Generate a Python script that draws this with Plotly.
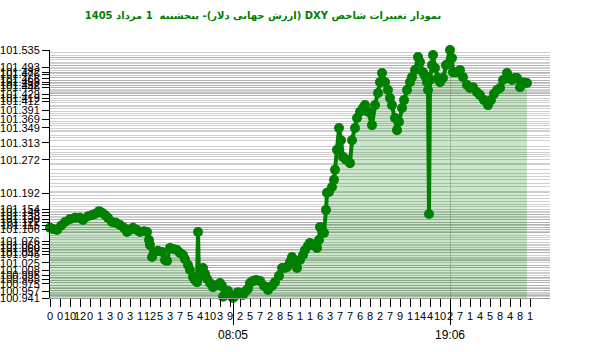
import plotly.graph_objects as go

# minutes elapsed since the first sample
minutes = [0, 9, 21, 33, 45, 60, 75, 90, 99, 114, 126, 135, 147, 156, 165, 174, 186, 198, 210, 222,
           231, 240, 249, 261, 270, 282, 291, 297, 300, 306, 315, 324, 336, 345, 351, 360, 372, 381, 390, 399,
           405, 414, 420, 429, 435, 441, 444, 447, 453, 459, 465, 471, 480, 489, 501, 510, 516, 519, 528, 534,
           543, 549, 555, 564, 573, 579, 588, 594, 600, 609, 618, 630, 642, 654, 666, 675, 687, 696, 705, 711,
           720, 726, 735, 741, 750, 759, 765, 774, 780, 789, 801, 807, 810, 816, 822, 828, 831, 837, 846, 852,
           855, 861, 867, 873, 879, 888, 900, 906, 915, 921, 930, 939, 945, 954, 966, 975, 984, 990, 996, 1005,
           1014, 1020, 1026, 1035, 1041, 1047, 1056, 1062, 1071, 1080, 1086, 1095, 1104, 1110, 1119, 1125, 1131, 1134, 1137, 1140,
           1146, 1149, 1155, 1164, 1170, 1179, 1188, 1200, 1206, 1209, 1218, 1230, 1239, 1251, 1260, 1269, 1281, 1290, 1302, 1314,
           1323, 1332, 1341, 1350, 1359, 1371, 1380, 1386, 1395, 1401, 1410, 1419, 1431]

values = [101.109, 101.106, 101.104, 101.114, 101.123, 101.130, 101.133, 101.133, 101.128, 101.137,
          101.140, 101.142, 101.149, 101.145, 101.140, 101.133, 101.123, 101.121, 101.116, 101.109,
          101.099, 101.104, 101.109, 101.104, 101.099, 101.101, 101.099, 101.080, 101.068, 101.039,
          101.051, 101.054, 101.051, 101.032, 101.030, 101.061, 101.058, 101.056, 101.049, 101.044,
          101.034, 101.020, 101.008, 100.991, 100.984, 100.979, 101.099, 100.991, 100.999, 101.013,
          100.999, 100.987, 100.977, 100.967, 100.972, 100.977, 100.970, 100.944, 100.951, 100.958,
          100.946, 100.941, 100.946, 100.955, 100.951, 100.948, 100.958, 100.963, 100.977, 100.982,
          100.984, 100.982, 100.970, 100.960, 100.970, 100.979, 100.994, 101.013, 101.013, 101.015,
          101.027, 101.039, 101.027, 101.013, 101.032, 101.044, 101.056, 101.066, 101.073, 101.068,
          101.061, 101.080, 101.111, 101.104, 101.097, 101.152, 101.193, 101.195, 101.207, 101.224,
          101.248, 101.296, 101.348, 101.319, 101.279, 101.272, 101.264, 101.319, 101.348, 101.372,
          101.387, 101.396, 101.403, 101.387, 101.355, 101.403, 101.432, 101.458, 101.480, 101.458,
          101.439, 101.420, 101.403, 101.372, 101.343, 101.363, 101.396, 101.415, 101.439, 101.458,
          101.470, 101.487, 101.518, 101.506, 101.482, 101.473, 101.458, 101.439, 101.142, 101.463,
          101.499, 101.523, 101.492, 101.468, 101.458, 101.468, 101.499, 101.535, 101.516, 101.482,
          101.482, 101.487, 101.470, 101.451, 101.444, 101.446, 101.434, 101.427, 101.415, 101.403,
          101.415, 101.430, 101.439, 101.444, 101.463, 101.480, 101.468, 101.463, 101.468, 101.468,
          101.446, 101.458, 101.456]

y_labels = [101.535, 101.493, 101.482, 101.476, 101.466, 101.458, 101.452, 101.446, 101.429,
            101.419, 101.412, 101.391, 101.369, 101.349, 101.313, 101.272, 101.192, 101.154,
            101.146, 101.138, 101.130, 101.122, 101.115, 101.106, 101.076, 101.068, 101.060,
            101.052, 101.045, 101.025, 101.008, 100.995, 100.985, 100.975, 100.957, 100.941]

# extra background grid levels (intermediate quotes not drawn as markers)
grid_levels = [101.530, 101.512, 101.503, 101.497, 101.490, 101.478, 101.462, 101.455, 101.449,
               101.441, 101.436, 101.425, 101.409, 101.400, 101.383, 101.378, 101.360, 101.340,
               101.331, 101.325, 101.305, 101.290, 101.284, 101.260, 101.240, 101.232, 101.216,
               101.186, 101.180, 101.171, 101.165, 101.160, 101.118, 101.090, 101.085, 101.036,
               101.018, 101.003, 100.989, 100.964, 100.950]

minor_tick_minutes = list(range(0, 1441, 30))
minor_tick_text = ["0", "0", "10", "12", "0", "1", "3", "0", "3", "1", "12", "5", "3", "7", "5", "4",
                   "10", "3", "9", "2", "5", "7", "2", "8", "5", "1", "1", "6", "3", "7", "7", "6",
                   "8", "2", "7", "9", "1", "14", "4", "10", "2", "7", "1", "4", "5", "8", "4", "8", "1"]
minor_tick_text = minor_tick_text[:len(minor_tick_minutes)]

title_text = "نمودار تغییرات شاخص DXY (ارزش جهانی دلار)- پنجشنبه  1 مرداد 1405"
min_label = "08:05"
max_label = "19:06"

green = "rgb(0,128,0)"
ymin, ymax = min(values), max(values)
imin = values.index(ymin)
imax = values.index(ymax)
yr = [ymin, ymax]
xr = [0, 1500]

fig = go.Figure()
fig.add_trace(go.Scatter(
    x=minutes, y=values, mode="lines+markers",
    line=dict(color=green, width=4),
    marker=dict(color=green, size=10),
    fill="tozeroy", fillcolor="rgba(0,128,0,0.2)",
    cliponaxis=False, showlegend=False, hoverinfo="x+y"))
# invisible helper traces for grid / extreme-time axes
fig.add_trace(go.Scatter(x=[minutes[0]], y=[values[0]], xaxis="x2", yaxis="y2",
                         mode="markers", marker=dict(opacity=0), showlegend=False, hoverinfo="skip"))
fig.add_trace(go.Scatter(x=[minutes[0]], y=[values[0]], xaxis="x3", yaxis="y2",
                         mode="markers", marker=dict(opacity=0), showlegend=False, hoverinfo="skip"))

fig.update_layout(
    width=600, height=352,
    margin=dict(l=50, r=50, t=50, b=54),
    paper_bgcolor="white", plot_bgcolor="white",
    title=dict(text="\u202B" + title_text + "\u202C", x=263/600, xref="container", xanchor="center",
               y=1 - 15/352, yref="container", yanchor="middle",
               font=dict(family="DejaVu Sans", size=10, color=green, weight="bold")),
    font=dict(family="Liberation Sans, Arial", size=12, color="black"),
    xaxis=dict(range=xr, tickmode="array", tickvals=minor_tick_minutes, ticktext=minor_tick_text,
               tickangle=0, ticks="outside", ticklen=8, tickcolor="black", automargin=False,
               showgrid=False, zeroline=False, showline=True, linecolor="#999",
               tickfont=dict(size=11, color="black")),
    xaxis2=dict(range=xr, overlaying="x", anchor="y2", side="bottom", tickmode="array",
                tickvals=[minutes[imax]], ticktext=[max_label], automargin=False,
                tickangle=0, ticks="outside", ticklen=26, tickcolor="black",
                showgrid=True, gridcolor="rgba(160,160,160,0.6)", gridwidth=1,
                zeroline=False, showline=False, tickfont=dict(size=12, color="black")),
    xaxis3=dict(range=xr, overlaying="x", anchor="y2", side="bottom", tickmode="array",
                tickvals=[minutes[imin]], ticktext=[min_label], automargin=False,
                tickangle=0, ticks="outside", ticklen=26, tickcolor="black",
                showgrid=False, zeroline=False, showline=False,
                tickfont=dict(size=12, color="black")),
    yaxis=dict(range=yr, tickmode="array", tickvals=y_labels,
               ticktext=[f"{v:.3f}" for v in y_labels], automargin=False,
               ticks="outside", ticklen=7, tickcolor="black",
               showgrid=False, zeroline=False, showline=True, linecolor="black",
               tickfont=dict(size=11, color="black")),
    yaxis2=dict(range=yr, overlaying="y", anchor="x", side="left", tickmode="array",
                tickvals=sorted(set(values) | set(grid_levels)), showticklabels=False, ticks="",
                showgrid=True, gridcolor="rgba(130,130,130,0.38)", gridwidth=1,
                zeroline=False, showline=False, automargin=False),
)

fig.write_html("out.html")
